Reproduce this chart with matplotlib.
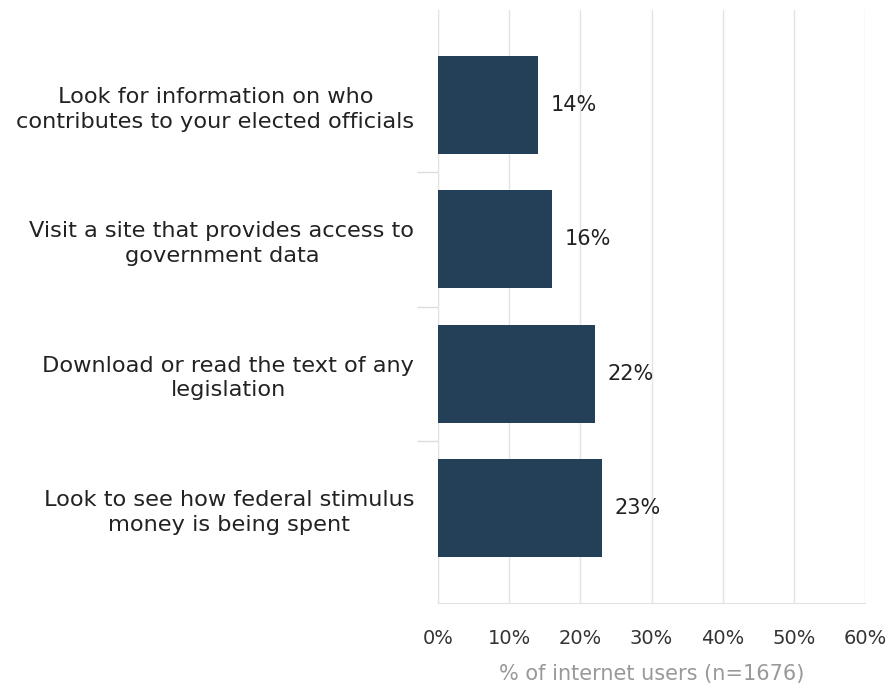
import numpy as np
import matplotlib.pyplot as plt

categories = [
    'Look for information on who\ncontributes to your elected officials',
    'Visit a site that provides access to\ngovernment data',
    'Download or read the text of any\nlegislation',
    'Look to see how federal stimulus\nmoney is being spent',
]
values = [14, 16, 22, 23]
x_ticks = [0, 10, 20, 30, 40, 50, 60]

plt.rcParams['font.family'] = ['DejaVu Sans']

fig = plt.figure(figsize=(8.91, 6.9), dpi=100)
ax = fig.add_axes([438 / 891, 1 - 603 / 690, (865 - 438) / 891, (603 - 10) / 690])

y = np.arange(len(categories))
ax.barh(y, values, height=0.73, color='#243f58', zorder=3)

# value labels just right of each bar
for yi, v in zip(y, values):
    ax.text(v + 1.8, yi, f'{v}%', va='center', ha='left', fontsize=15, color='#222222')

ax.set_xlim(0, 60)
ax.set_ylim(3.5 + 0.21, -0.5 - 0.21)
ax.set_xticks(x_ticks)
ax.set_xticklabels([f'{t}%' for t in x_ticks], fontsize=14, color='#333333')
ax.grid(axis='x', color='#e3e3e3', linewidth=1, zorder=0)

ax.set_yticks(y)
ax.set_yticklabels(categories, fontsize=16.2, color='#222222', multialignment='center',
                   linespacing=1.3)
# separators between categories
ax.set_yticks(y[:-1] + 0.5, minor=True)
ax.tick_params(axis='y', which='major', length=0, pad=17)
ax.tick_params(axis='y', which='minor', length=15, color='#dddddd', width=1)
ax.tick_params(axis='x', length=0, pad=19)

for s in ['top', 'right']:
    ax.spines[s].set_visible(False)
ax.spines['left'].set_color('#e3e3e3')
ax.spines['bottom'].set_color('#e3e3e3')

ax.set_xlabel('% of internet users (n=1676)', fontsize=15, color='#999999', labelpad=11)

fig.savefig('out.png', dpi=100, facecolor='white')
